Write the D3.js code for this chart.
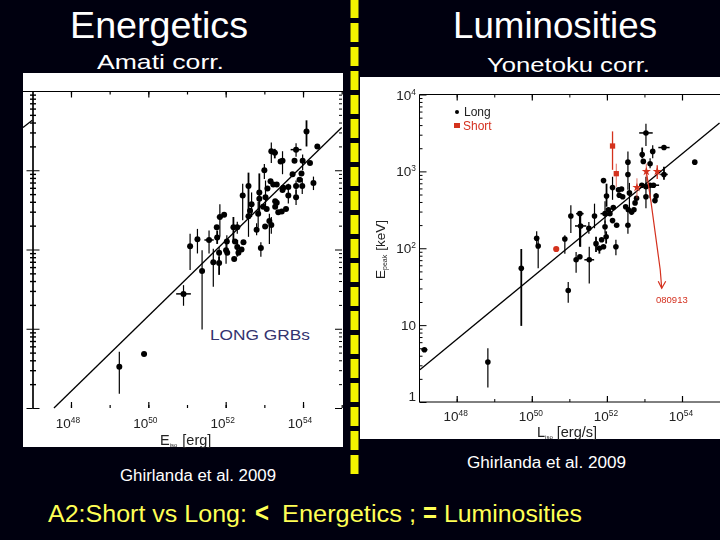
<!DOCTYPE html>
<html><head><meta charset="utf-8">
<script src="https://cdn.jsdelivr.net/npm/d3@7"></script>
<style>html,body{margin:0;padding:0;background:#00000f;overflow:hidden}svg{display:block}text{font-variant-ligatures:none}</style>
</head><body><svg id="c" width="720" height="540"></svg>
<script>
// ---- Amati panel (log10 values) ----
const amatiE = [54.09,54.37,53.82,53.18,53.27,53.99,53.78,53.47,53.42,54.18,
53.00,53.73,53.96,53.91,53.16,54.27,53.23,53.32,53.82,53.98,
52.59,53.49,53.62,53.08,52.87,53.47,53.62,52.44,52.87,53.03,
53.82,53.28,53.32,52.67,52.63,52.97,53.28,53.06,53.56,53.36,
53.45,52.84,52.59,51.85,51.96,53.13,53.02,53.18,52.20,52.30,
51.77,52.80,51.78,51.27,51.57,52.03,52.24,52.46,51.08,52.91,
52.30,52.41,52.01,51.83,52.04,52.33,52.22,51.68,51.83,51.39,
50.91,49.25,49.89];
const amatiEp = [3.49,3.30,3.26,3.24,3.22,3.12,3.12,3.12,3.11,3.09,
3.00,2.95,2.96,2.88,2.86,2.84,2.82,2.82,2.80,2.80,
2.80,2.78,2.79,2.77,2.72,2.75,2.68,2.68,2.64,2.66,
2.66,2.61,2.59,2.57,2.49,2.54,2.54,2.51,2.51,2.47,
2.48,2.45,2.42,2.41,2.44,2.36,2.29,2.31,2.28,2.28,
2.28,2.25,2.15,2.13,2.12,2.10,2.10,2.09,2.04,2.02,
2.03,2.00,1.99,1.96,1.96,1.96,1.88,1.84,1.83,1.73,
1.44,0.52,0.68];
const amatiHi = [3.63,null,3.34,3.35,3.27,3.20,null,3.24,null,null,
3.08,null,null,null,null,2.92,null,null,2.87,2.90,
2.97,null,null,null,2.96,null,2.83,2.83,null,2.87,
2.75,null,null,2.72,null,null,null,null,null,null,
null,2.60,2.49,2.57,null,2.45,null,2.41,2.41,2.35,
null,2.33,2.24,2.26,2.24,2.18,null,null,2.20,2.09,
2.12,null,2.12,2.03,null,null,null,2.01,1.91,1.99,
1.55,0.71,null];
const amatiLo = [3.30,null,3.17,3.09,3.15,3.00,null,2.95,null,null,
2.89,null,null,null,null,2.75,null,null,2.70,2.70,
2.41,null,null,null,2.45,null,2.58,2.37,null,2.49,
2.56,null,null,2.41,null,null,null,null,null,null,
null,2.28,2.16,2.16,null,2.07,null,2.20,2.12,2.20,
null,2.18,2.07,1.95,1.95,1.97,null,null,1.74,1.91,
1.91,null,1.82,1.86,null,null,null,1.53,1.68,0.99,
1.29,0.18,null];
const amatiXErr = [[2,0.14],[4,0.08],[54,0.12],[52,0.06],[43,0.08],[70,0.19],[72,0.07]];
const amatiLineE = [47.56,55.0];
const amatiLineEp = [0,3.54];
const amatiStubE = [46.76,47.0];
const amatiStubEp = [3.54,3.63];

// ---- Yonetoku panel (log10 values) ----
const yonL = [54.34,53.52,53.04,53.22,52.94,52.97,53.15,52.56,53.52,52.56,
51.91,52.15,52.31,52.39,52.60,52.33,51.99,52.42,52.93,53.04,
53.24,53.15,53.04,53.31,53.28,52.79,52.75,52.50,52.17,52.57,
52.66,52.72,52.04,51.95,52.08,51.04,51.28,51.67,52.15,52.56,
52.26,51.30,51.52,51.95,51.98,50.88,50.13,50.17,51.71,51.86,
52.24,51.91,51.80,51.28,51.18,51.53,49.72,50.97,47.14,48.83];
const yonEp = [3.12,3.31,3.50,3.26,3.22,3.13,3.10,3.12,2.96,2.96,
2.88,2.79,2.76,2.77,2.72,2.69,2.68,2.67,2.82,2.80,
2.82,2.82,2.67,2.68,2.62,2.65,2.59,2.54,2.53,2.50,
2.47,2.50,2.50,2.45,2.45,2.42,2.45,2.42,2.36,2.30,
2.30,2.29,2.26,2.28,2.15,2.12,2.13,2.03,2.06,2.11,
2.02,2.02,2.00,1.89,1.85,1.85,1.74,1.45,0.68,0.52];
const yonHi = [null,null,3.62,3.34,3.31,null,3.17,3.26,3.06,null,
null,2.93,null,null,2.85,null,2.84,null,null,2.93,
null,null,null,2.72,null,null,null,null,null,null,
null,null,null,2.61,null,2.56,2.45,2.58,null,2.50,
null,2.45,2.34,2.36,2.22,2.17,2.22,2.15,2.15,null,
2.11,null,null,null,1.95,2.02,1.99,1.56,null,0.70];
const yonLo = [null,null,3.33,3.17,3.17,null,3.04,2.96,2.89,2.76,
null,2.63,null,null,2.50,null,2.54,null,null,2.52,
null,2.65,null,2.60,null,null,null,null,null,null,
null,null,null,2.32,null,2.20,2.02,2.26,null,2.19,
null,2.02,2.19,2.19,2.06,1.93,2.00,1.74,1.95,null,
1.91,null,1.93,null,1.68,1.54,0.99,1.29,null,0.19];
const yonXErr = [[1,0.15],[2,0.18],[8,0.1],[20,0.15],[33,0.12],[36,0.1],[41,0.15],[55,0.13],[58,0.08]];
const shortL = [52.15,52.25,52.80,53.05,53.34,50.65];
const shortEp = [3.33,2.97,2.79,3.00,3.00,1.99];
const shortHi = [3.52,3.10,2.91,3.10,3.08,null];
const shortLo = [3.02,2.80,2.65,2.87,2.90,null];
const yonLineL = [47.02,55.0];
const yonLineEp = [0.42,3.63];
const arrowL = [53.05,53.17,53.42,53.46];
const arrowEp = [3.00,2.62,1.72,1.48];

// ---- Text ----
const titles = ["Energetics","Luminosities"];
const subtitles = ["Amati corr.","Yonetoku corr."];
const credit = "Ghirlanda et al. 2009";
const longLabel = "LONG GRBs";
const footerParts = ["A2:Short vs Long:","<","Energetics ;","=","Luminosities"];
const legendLabels = ["Long","Short"];
const grbLabel = "080913";
const leftTickExps = [48,50,52,54];
const rightTickExps = [48,50,52,54];
const rightYLabels = [[4,"10","4"],[3,"10","3"],[2,"10","2"],[1,"10",""],[0,"1",""]];

const p10 = v => Math.pow(10, v);
const svg = d3.select("#c");
const handFont = "'Liberation Sans',Arial,sans-serif";
const plotFont = "'Liberation Sans',Arial,sans-serif";

const defs = svg.append("defs");
defs.append("filter").attr("id","soft").attr("x","-5%").attr("y","-5%").attr("width","110%").attr("height","110%")
  .append("feGaussianBlur").attr("stdDeviation",0.4);

svg.append("rect").attr("width",720).attr("height",540).attr("fill","#00000f");
svg.append("line").attr("x1",354.5).attr("x2",354.5).attr("y1",-1).attr("y2",474)
  .attr("stroke","#f4f400").attr("stroke-width",8).attr("stroke-dasharray","19 5");
svg.append("rect").attr("x",23).attr("y",73).attr("width",320).attr("height",374).attr("fill","#fff");
svg.append("rect").attr("x",360).attr("y",77).attr("width",360).attr("height",362).attr("fill","#fff");

function txt(s,x,y,size,w,fill){
  return svg.append("text").attr("x",x).attr("y",y).attr("font-family",handFont)
    .attr("font-size",size).attr("fill",fill).attr("textLength",w)
    .attr("lengthAdjust","spacingAndGlyphs").text(s);
}
txt(titles[0],70,38,37,178,"#fff");
txt(titles[1],453,38,37,204,"#fff");
txt(subtitles[0],97,69,21,127,"#fff");
txt(subtitles[1],487,72,21,163,"#fff");
txt(longLabel,210,340,15.5,100,"#33336f");
txt(credit,120,481,16,156,"#fff");
txt(credit,467,468,16,159,"#fff");
// footer
const fx=[48,255,282,423,444], fw=[199,14,134,14,138];
footerParts.forEach((s,i)=>{
  const bold = i===1||i===3;
  svg.append("text").attr("x",fx[i]).attr("y",522).attr("font-family",handFont)
    .attr("font-size",bold?27:23).attr("font-weight",bold?"bold":"normal")
    .attr("fill","#ffff55").attr("textLength",fw[i]).attr("lengthAdjust","spacingAndGlyphs")
    .text(s);
});

function minorVals(){ const out=[]; for(let d=0;d<4;d++) for(let m=2;m<=9;m++) out.push(m*p10(d)); return out; }
const decY = d3.range(0,5).map(p10);

function expLabel(parent,x,y,base,exp,size,anchor){
  const t = parent.append("text").attr("x",x).attr("y",y).attr("font-family",plotFont)
    .attr("font-size",size).attr("fill","#222").attr("text-anchor",anchor||"middle");
  t.append("tspan").text(base);
  if(exp) t.append("tspan").attr("dy",-5).attr("font-size",size*0.62).text(exp);
}
function styleAxis(g,w){
  g.selectAll("path").attr("stroke","#000").attr("stroke-width",1.2);
  g.selectAll("line").attr("stroke","#000").attr("stroke-width",w);
  g.selectAll("text").remove();
}
function errBars(g,xs,ys,hi,lo,xerr,x,y,color,w){
  const idx = d3.range(xs.length).filter(i=>hi[i]!=null||lo[i]!=null);
  g.selectAll(null).data(idx).join("line")
    .attr("x1",i=>x(p10(xs[i]))).attr("x2",i=>x(p10(xs[i])))
    .attr("y1",i=>y(p10(hi[i]!=null?hi[i]:ys[i]))).attr("y2",i=>y(p10(lo[i]!=null?lo[i]:ys[i])))
    .attr("stroke",color).attr("stroke-width",i=>w+(i%4===0?0.6:0));
  g.selectAll(null).data(xerr||[]).join("line")
    .attr("x1",d=>x(p10(xs[d[0]]-d[1]))).attr("x2",d=>x(p10(xs[d[0]]+d[1])))
    .attr("y1",d=>y(p10(ys[d[0]]))).attr("y2",d=>y(p10(ys[d[0]])))
    .attr("stroke",color).attr("stroke-width",w+0.3);
}
function drawLine(g,xs,ys,x,y,color,w){
  const pts = xs.map((v,i)=>[x(p10(v)),y(p10(ys[i]))]);
  g.append("path").attr("d",d3.line()(pts)).attr("fill","none").attr("stroke",color).attr("stroke-width",w);
}

// ---------- Left panel ----------
const xL = d3.scaleLog().domain([1e47,1e55]).range([32.3,341.7]);
const yL = d3.scaleLog().domain([1,1e4]).range([408,91]);
const gL = svg.append("g").attr("filter","url(#soft)");
const xDec = d3.range(48,56).map(p10);
const xDecMajor = leftTickExps.map(p10);
gL.append("line").attr("x1",23).attr("x2",343).attr("y1",91.5).attr("y2",91.5).attr("stroke","#000").attr("stroke-width",1.2);
gL.append("g").attr("transform","translate(32.5,0)").call(d3.axisLeft(yL).tickValues(decY).tickSize(6).tickSizeOuter(0).tickFormat("")).call(styleAxis,1);
gL.append("g").attr("transform","translate(32.5,0)").call(d3.axisRight(yL).tickValues(decY).tickSize(7).tickSizeOuter(0).tickFormat("")).call(styleAxis,1);
gL.append("g").attr("transform","translate(36,0)").call(d3.axisLeft(yL).tickValues(minorVals()).tickSize(6).tickSizeOuter(0).tickFormat("")).call(styleAxis,1.4).select("path").remove();
gL.append("g").attr("transform","translate(342,0)").call(d3.axisLeft(yL).tickValues(decY).tickSize(7).tickSizeOuter(0).tickFormat("")).call(styleAxis,1).select("path").remove();
gL.append("g").attr("transform","translate(342,0)").call(d3.axisLeft(yL).tickValues(minorVals()).tickSize(3).tickSizeOuter(0).tickFormat("")).call(styleAxis,1).select("path").remove();
gL.append("g").attr("transform","translate(0,91.5)").call(d3.axisBottom(xL).tickValues(xDec).tickSize(3).tickSizeOuter(0).tickFormat("")).call(styleAxis,1.2).select("path").remove();
gL.append("g").attr("transform","translate(0,91.5)").call(d3.axisBottom(xL).tickValues(xDecMajor).tickSize(6).tickSizeOuter(0).tickFormat("")).call(styleAxis,1.2).select("path").remove();
gL.append("g").attr("transform","translate(0,408)").call(d3.axisTop(xL).tickValues(xDec).tickSize(3).tickSizeOuter(0).tickFormat("")).call(styleAxis,1.2).select("path").remove();
gL.append("g").attr("transform","translate(0,408)").call(d3.axisTop(xL).tickValues(xDecMajor).tickSize(6).tickSizeOuter(0).tickFormat("")).call(styleAxis,1.2).select("path").remove();
leftTickExps.forEach(e=>expLabel(gL,xL(p10(e))-3,428,"10",String(e),13.5));
{
  const t = gL.append("text").attr("x",160).attr("y",445).attr("font-family",plotFont).attr("font-size",14.5).attr("fill","#222");
  t.append("tspan").text("E");
  t.append("tspan").attr("dy",2).attr("font-size",6).text("iso");
  t.append("tspan").attr("dy",-2).attr("dx",5).text("[erg]");
}
drawLine(gL,amatiLineE,amatiLineEp,xL,yL,"#000",1.3);
drawLine(gL,amatiStubE,amatiStubEp,xL,yL,"#000",1.3);
errBars(gL,amatiE,amatiEp,amatiHi,amatiLo,amatiXErr,xL,yL,"#000",1.2);
gL.selectAll(null).data(amatiE).join("circle")
  .attr("cx",d=>xL(p10(d))).attr("cy",(d,i)=>yL(p10(amatiEp[i]))).attr("r",3).attr("fill","#000");

// ---------- Right panel ----------
const xR = d3.scaleLog().domain([1e47,1e55]).range([419.15,719.55]);
const yR = d3.scaleLog().domain([1,1e4]).range([402,94.5]);
const gR = svg.append("g").attr("filter","url(#soft)");
gR.append("path").attr("d",d3.line()([[720,94.5],[419.5,94.5],[419.5,402],[720,402]]))
  .attr("fill","none").attr("stroke","#000").attr("stroke-width",1);
gR.append("g").attr("transform","translate(419.5,0)").call(d3.axisRight(yR).tickValues(decY).tickSize(7).tickSizeOuter(0).tickFormat("")).call(styleAxis,1).select("path").remove();
gR.append("g").attr("transform","translate(419.5,0)").call(d3.axisRight(yR).tickValues(minorVals()).tickSize(3).tickSizeOuter(0).tickFormat("")).call(styleAxis,1).select("path").remove();
const xRT = d3.range(48,55).map(p10);
const xRM = rightTickExps.map(p10);
[[94.5,d3.axisBottom],[402,d3.axisTop]].forEach(([yy,ax])=>{
  gR.append("g").attr("transform",`translate(0,${yy})`).call(ax(xR).tickValues(xRT).tickSize(3).tickSizeOuter(0).tickFormat("")).call(styleAxis,1).select("path").remove();
  gR.append("g").attr("transform",`translate(0,${yy})`).call(ax(xR).tickValues(xRM).tickSize(6).tickSizeOuter(0).tickFormat("")).call(styleAxis,1.2).select("path").remove();
});
rightTickExps.forEach(e=>expLabel(gR,xR(p10(e))-1,421,"10",String(e),13.5));
rightYLabels.forEach(([e,b,s])=>{
  expLabel(gR,416,yR(p10(e))+(e===0?-1:5),b,s,13.5,"end");
});
{
  const t = gR.append("text").attr("transform","translate(385,279) rotate(-90)").attr("font-family",plotFont).attr("font-size",13.5).attr("fill","#222");
  t.append("tspan").text("E");
  t.append("tspan").attr("dy",2).attr("font-size",7).text("peak");
  t.append("tspan").attr("dy",-2).attr("dx",4).text("[keV]");
}
{
  const t = gR.append("text").attr("x",537).attr("y",437).attr("font-family",plotFont).attr("font-size",14.5).attr("fill","#222");
  t.append("tspan").text("L");
  t.append("tspan").attr("dy",2).attr("font-size",6).text("iso");
  t.append("tspan").attr("dy",-2).attr("dx",4).text("[erg/s]");
}
drawLine(gR,yonLineL,yonLineEp,xR,yR,"#000",1.3);
errBars(gR,yonL,yonEp,yonHi,yonLo,yonXErr,xR,yR,"#000",1.2);
gR.selectAll(null).data(yonL).join("circle")
  .attr("cx",d=>xR(p10(d))).attr("cy",(d,i)=>yR(p10(yonEp[i]))).attr("r",2.8).attr("fill","#000");
const red = "#d4301f";
errBars(gR,shortL,shortEp,shortHi,shortLo,[],xR,yR,red,0.7);
drawLine(gR,arrowL,arrowEp,xR,yR,red,1.2);
gR.selectAll(null).data(shortL).join("path")
  .attr("transform",(d,i)=>`translate(${xR(p10(d))},${yR(p10(shortEp[i]))})`)
  .attr("d",(d,i)=>d3.symbol().type(i<2?d3.symbolSquare:(i===5?d3.symbolCircle:d3.symbolStar)).size(i<2?28:(i===5?30:26))())
  .attr("fill",red);
{
  const n = arrowL.length-1;
  const tx = xR(p10(arrowL[n])), ty = yR(p10(arrowEp[n]));
  gR.append("path").attr("d",d3.line()([[tx-3.5,ty-7],[tx,ty],[tx+4,ty-7]])).attr("fill","none").attr("stroke",red).attr("stroke-width",1.2);
}
gR.append("text").attr("x",656).attr("y",303).attr("font-family",plotFont).attr("font-size",9.5).attr("fill",red).text(grbLabel);
gR.append("circle").attr("cx",457).attr("cy",112).attr("r",2).attr("fill","#000");
gR.append("rect").attr("x",454).attr("y",123).attr("width",6).attr("height",5).attr("fill",red);
gR.append("text").attr("x",464).attr("y",116).attr("font-family",plotFont).attr("font-size",12).attr("fill","#222").text(legendLabels[0]);
gR.append("text").attr("x",463).attr("y",130).attr("font-family",plotFont).attr("font-size",12).attr("fill",red).text(legendLabels[1]);
</script></body></html>
